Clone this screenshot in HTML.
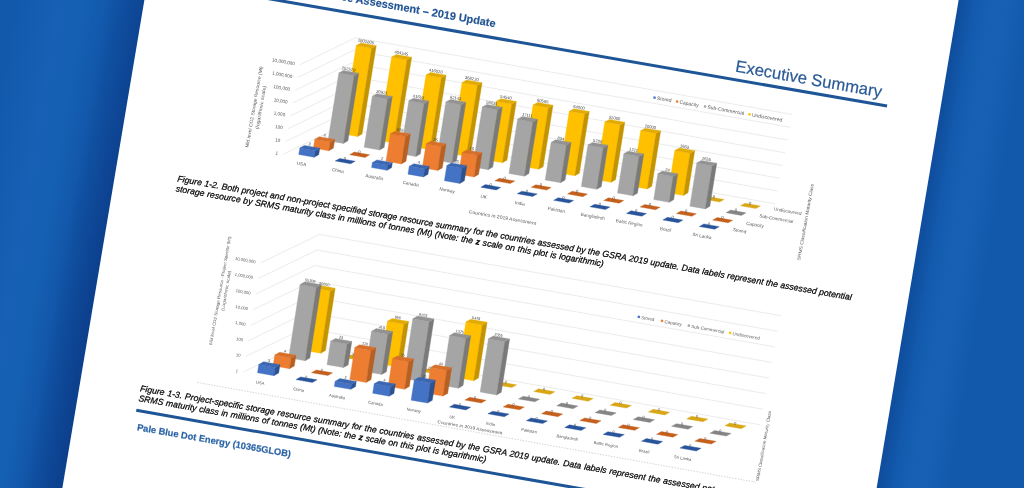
<!DOCTYPE html>
<html><head><meta charset="utf-8"><title>Executive Summary</title>
<style>
html,body{margin:0;padding:0}
body{width:1024px;height:488px;overflow:hidden;position:relative;font-family:"Liberation Sans",sans-serif;
background:#1259ac;}
#wrap{position:absolute;left:0;top:0;width:0;height:0;transform-origin:0 0;transform:matrix(0.98481,0.17365,-0.16574,0.98617,144.40,0.00);}
#bg{position:absolute;left:-400px;top:-300px;width:1800px;height:1100px;background:linear-gradient(90deg,#1259ac 0px,#1259ac 270px,#1760b5 318px,#1660b4 340px,#1259ac 372px,#1259ac 1203px,#1259ac 1216px,#1760b4 1236px,#1760b4 1250px,#1259ac 1275px);}
#shA{position:absolute;left:-38px;top:-300px;width:38px;height:1100px;background:linear-gradient(90deg,rgba(6,30,100,0),rgba(6,30,100,.14) 45%,rgba(6,30,100,.30));}
#shB{position:absolute;left:-58px;top:-300px;width:58px;height:1100px;background:linear-gradient(90deg,rgba(6,30,100,0),rgba(6,30,100,.12) 60%,rgba(6,30,100,.2));-webkit-mask-image:linear-gradient(180deg,rgba(0,0,0,0) 200px,#000 600px);mask-image:linear-gradient(180deg,rgba(0,0,0,0) 200px,#000 600px);}
#shR{position:absolute;left:803px;top:-300px;width:16px;height:1100px;background:linear-gradient(90deg,rgba(6,30,100,.22),rgba(6,30,100,0));}
#paper{position:absolute;left:0;top:-220px;width:803px;height:900px;background:#fff;}
.t{position:absolute;white-space:nowrap;line-height:1}
.hl{position:absolute;background:#1d5596;height:2.8px}
.cap{font-style:italic;font-size:8.72px;color:#000;width:684.5px;text-align:justify;text-align-last:justify;-webkit-text-stroke:.22px #000}
.cap.last{text-align-last:left}
#charts{position:absolute;left:0;top:0;filter:blur(.35px)}
</style></head><body>
<div id="wrap">
 <div id="bg"></div><div id="shA"></div><div id="shB"></div><div id="shR"></div>
 <div id="paper"></div>
 <div class="t" id="title" style="right:-350.3px;top:-43.1px;font-weight:bold;font-size:11px;color:#235593;-webkit-text-stroke:.15px #235593">Global Storage Resource Assessment – 2019 Update</div>
 <div class="hl" style="left:59.8px;top:-26.4px;width:689.6px;transform-origin:100% 50%;transform:rotate(-0.15deg)"></div>
 <div class="t" id="exec" style="right:-742.5px;top:-45px;font-size:16.7px;color:#2a5a96;-webkit-text-stroke:.2px #2a5a96">Executive Summary</div>
 <div class="t cap" id="c1a" style="left:62.3px;top:166.2px">Figure 1-2. Both project and non-project specified storage resource summary for the countries assessed by the GSRA 2019 update. Data labels represent the assessed potential</div>
 <div class="t cap" id="c1b" style="left:62.3px;top:176.25px;width:434.4px">storage resource by SRMS maturity class in millions of tonnes (Mt) (Note: the <b>z</b> scale on this plot is logarithmic)</div>
 <div class="t cap" id="c2a" style="left:60.3px;top:379.05px">Figure 1-3. Project-specific storage resource summary for the countries assessed by the GSRA 2019 update. Data labels represent the assessed potential storage resource by</div>
 <div class="t cap" id="c2b" style="left:60.3px;top:388.5px;width:353px">SRMS maturity class in millions of tonnes (Mt) (Note: the <b>z</b> scale on this plot is logarithmic)</div>
 <div class="hl" style="left:59.8px;top:404.4px;width:700px;height:2.9px"></div>
 <div class="t" id="foot" style="left:63.7px;top:417.8px;font-weight:bold;font-size:9.33px;color:#2b64a6;-webkit-text-stroke:.18px #2b64a6">Pale Blue Dot Energy (10365GLOB)</div>
</div>
<svg id="charts" width="1024" height="488" viewBox="0 0 1024 488" font-family="Liberation Sans, sans-serif">
<line x1="283.20" y1="154.30" x2="338.80" y2="127.35" stroke="#dedede" stroke-width="0.6" />
<line x1="338.80" y1="127.35" x2="775.00" y2="203.75" stroke="#dedede" stroke-width="0.6" />
<line x1="285.60" y1="141.50" x2="341.20" y2="114.55" stroke="#dedede" stroke-width="0.6" />
<line x1="341.20" y1="114.55" x2="777.50" y2="191.00" stroke="#dedede" stroke-width="0.6" />
<line x1="288.00" y1="128.70" x2="343.60" y2="101.75" stroke="#dedede" stroke-width="0.6" />
<line x1="343.60" y1="101.75" x2="780.00" y2="178.25" stroke="#dedede" stroke-width="0.6" />
<line x1="290.40" y1="115.90" x2="346.00" y2="88.95" stroke="#dedede" stroke-width="0.6" />
<line x1="346.00" y1="88.95" x2="782.50" y2="165.50" stroke="#dedede" stroke-width="0.6" />
<line x1="292.80" y1="103.10" x2="348.40" y2="76.15" stroke="#dedede" stroke-width="0.6" />
<line x1="348.40" y1="76.15" x2="785.00" y2="152.75" stroke="#dedede" stroke-width="0.6" />
<line x1="295.20" y1="90.30" x2="350.80" y2="63.35" stroke="#dedede" stroke-width="0.6" />
<line x1="350.80" y1="63.35" x2="787.50" y2="140.00" stroke="#dedede" stroke-width="0.6" />
<line x1="297.60" y1="77.50" x2="353.20" y2="50.55" stroke="#dedede" stroke-width="0.6" />
<line x1="353.20" y1="50.55" x2="790.00" y2="127.25" stroke="#dedede" stroke-width="0.6" />
<line x1="300.00" y1="64.70" x2="355.60" y2="37.75" stroke="#dedede" stroke-width="0.6" />
<line x1="355.60" y1="37.75" x2="792.50" y2="114.50" stroke="#dedede" stroke-width="0.6" />
<text transform="translate(277.70 154.90) rotate(10)" font-size="4.6" text-anchor="end" fill="#595959" >1</text>
<text transform="translate(280.10 142.10) rotate(10)" font-size="4.6" text-anchor="end" fill="#595959" >10</text>
<text transform="translate(282.50 129.30) rotate(10)" font-size="4.6" text-anchor="end" fill="#595959" >100</text>
<text transform="translate(284.90 116.50) rotate(10)" font-size="4.6" text-anchor="end" fill="#595959" >1,000</text>
<text transform="translate(287.30 103.70) rotate(10)" font-size="4.6" text-anchor="end" fill="#595959" >10,000</text>
<text transform="translate(289.70 90.90) rotate(10)" font-size="4.6" text-anchor="end" fill="#595959" >100,000</text>
<text transform="translate(292.10 78.10) rotate(10)" font-size="4.6" text-anchor="end" fill="#595959" >1,000,000</text>
<text transform="translate(294.50 65.30) rotate(10)" font-size="4.6" text-anchor="end" fill="#595959" >10,000,000</text>
<polygon points="342.12,133.80 357.52,136.55 371.65,48.25 356.25,45.50" fill="#FFC000" stroke="#FFC000" stroke-width="0.35" stroke-linejoin="round" />
<polygon points="357.52,136.55 362.12,133.95 376.25,45.65 371.65,48.25" fill="#c49300" stroke="#c49300" stroke-width="0.35" stroke-linejoin="round" />
<polygon points="356.25,45.50 371.65,48.25 376.25,45.65 360.85,42.90" fill="#e3ab00" stroke="#e3ab00" stroke-width="0.35" stroke-linejoin="round" />
<polygon points="378.33,140.34 393.73,143.09 407.06,59.79 391.66,57.04" fill="#FFC000" stroke="#FFC000" stroke-width="0.35" stroke-linejoin="round" />
<polygon points="393.73,143.09 398.33,140.49 411.66,57.19 407.06,59.79" fill="#c49300" stroke="#c49300" stroke-width="0.35" stroke-linejoin="round" />
<polygon points="391.66,57.04 407.06,59.79 411.66,57.19 396.26,54.44" fill="#e3ab00" stroke="#e3ab00" stroke-width="0.35" stroke-linejoin="round" />
<polygon points="414.54,146.89 429.94,149.64 441.44,77.74 426.04,74.99" fill="#FFC000" stroke="#FFC000" stroke-width="0.35" stroke-linejoin="round" />
<polygon points="429.94,149.64 434.54,147.04 446.04,75.14 441.44,77.74" fill="#c49300" stroke="#c49300" stroke-width="0.35" stroke-linejoin="round" />
<polygon points="426.04,74.99 441.44,77.74 446.04,75.14 430.64,72.39" fill="#e3ab00" stroke="#e3ab00" stroke-width="0.35" stroke-linejoin="round" />
<polygon points="450.75,153.44 466.15,156.19 477.49,85.28 462.09,82.53" fill="#FFC000" stroke="#FFC000" stroke-width="0.35" stroke-linejoin="round" />
<polygon points="466.15,156.19 470.75,153.59 482.09,82.69 477.49,85.28" fill="#c49300" stroke="#c49300" stroke-width="0.35" stroke-linejoin="round" />
<polygon points="462.09,82.53 477.49,85.28 482.09,82.69 466.69,79.94" fill="#e3ab00" stroke="#e3ab00" stroke-width="0.35" stroke-linejoin="round" />
<polygon points="486.96,159.98 502.36,162.73 511.75,104.03 496.35,101.28" fill="#FFC000" stroke="#FFC000" stroke-width="0.35" stroke-linejoin="round" />
<polygon points="502.36,162.73 506.96,160.13 516.35,101.43 511.75,104.03" fill="#c49300" stroke="#c49300" stroke-width="0.35" stroke-linejoin="round" />
<polygon points="496.35,101.28 511.75,104.03 516.35,101.43 500.95,98.68" fill="#e3ab00" stroke="#e3ab00" stroke-width="0.35" stroke-linejoin="round" />
<polygon points="523.17,166.52 538.57,169.27 548.41,107.77 533.01,105.02" fill="#FFC000" stroke="#FFC000" stroke-width="0.35" stroke-linejoin="round" />
<polygon points="538.57,169.27 543.17,166.67 553.01,105.17 548.41,107.77" fill="#c49300" stroke="#c49300" stroke-width="0.35" stroke-linejoin="round" />
<polygon points="533.01,105.02 548.41,107.77 553.01,105.17 537.61,102.42" fill="#e3ab00" stroke="#e3ab00" stroke-width="0.35" stroke-linejoin="round" />
<polygon points="559.38,173.07 574.78,175.82 584.67,114.02 569.27,111.27" fill="#FFC000" stroke="#FFC000" stroke-width="0.35" stroke-linejoin="round" />
<polygon points="574.78,175.82 579.38,173.22 589.27,111.42 584.67,114.02" fill="#c49300" stroke="#c49300" stroke-width="0.35" stroke-linejoin="round" />
<polygon points="569.27,111.27 584.67,114.02 589.27,111.42 573.87,108.67" fill="#e3ab00" stroke="#e3ab00" stroke-width="0.35" stroke-linejoin="round" />
<polygon points="595.59,179.62 610.99,182.37 620.21,124.77 604.81,122.02" fill="#FFC000" stroke="#FFC000" stroke-width="0.35" stroke-linejoin="round" />
<polygon points="610.99,182.37 615.59,179.77 624.81,122.17 620.21,124.77" fill="#c49300" stroke="#c49300" stroke-width="0.35" stroke-linejoin="round" />
<polygon points="604.81,122.02 620.21,124.77 624.81,122.17 609.41,119.42" fill="#e3ab00" stroke="#e3ab00" stroke-width="0.35" stroke-linejoin="round" />
<polygon points="631.80,186.16 647.20,188.91 656.06,133.51 640.66,130.76" fill="#FFC000" stroke="#FFC000" stroke-width="0.35" stroke-linejoin="round" />
<polygon points="647.20,188.91 651.80,186.31 660.66,130.91 656.06,133.51" fill="#c49300" stroke="#c49300" stroke-width="0.35" stroke-linejoin="round" />
<polygon points="640.66,130.76 656.06,133.51 660.66,130.91 645.26,128.16" fill="#e3ab00" stroke="#e3ab00" stroke-width="0.35" stroke-linejoin="round" />
<polygon points="668.01,192.70 683.41,195.45 690.16,153.25 674.76,150.50" fill="#FFC000" stroke="#FFC000" stroke-width="0.35" stroke-linejoin="round" />
<polygon points="683.41,195.45 688.01,192.85 694.76,150.66 690.16,153.25" fill="#c49300" stroke="#c49300" stroke-width="0.35" stroke-linejoin="round" />
<polygon points="674.76,150.50 690.16,153.25 694.76,150.66 679.36,147.91" fill="#e3ab00" stroke="#e3ab00" stroke-width="0.35" stroke-linejoin="round" />
<polygon points="704.22,199.25 719.62,202.00 724.22,199.40 708.82,196.65" fill="#d9a616" stroke="#d9a616" stroke-width="0.35" stroke-linejoin="round" />
<polygon points="740.43,205.80 755.83,208.55 760.43,205.95 745.03,203.20" fill="#d9a616" stroke="#d9a616" stroke-width="0.35" stroke-linejoin="round" />
<polygon points="327.97,140.70 343.37,143.45 354.20,75.75 338.80,73.00" fill="#A5A5A5" stroke="#A5A5A5" stroke-width="0.35" stroke-linejoin="round" />
<polygon points="343.37,143.45 347.97,140.85 358.80,73.15 354.20,75.75" fill="#7a7a7a" stroke="#7a7a7a" stroke-width="0.35" stroke-linejoin="round" />
<polygon points="338.80,73.00 354.20,75.75 358.80,73.15 343.40,70.40" fill="#929292" stroke="#929292" stroke-width="0.35" stroke-linejoin="round" />
<polygon points="364.16,147.24 379.56,149.99 387.72,98.99 372.32,96.24" fill="#A5A5A5" stroke="#A5A5A5" stroke-width="0.35" stroke-linejoin="round" />
<polygon points="379.56,149.99 384.16,147.39 392.32,96.39 387.72,98.99" fill="#7a7a7a" stroke="#7a7a7a" stroke-width="0.35" stroke-linejoin="round" />
<polygon points="372.32,96.24 387.72,98.99 392.32,96.39 376.92,93.64" fill="#929292" stroke="#929292" stroke-width="0.35" stroke-linejoin="round" />
<polygon points="400.35,153.79 415.75,156.54 424.23,103.54 408.83,100.79" fill="#A5A5A5" stroke="#A5A5A5" stroke-width="0.35" stroke-linejoin="round" />
<polygon points="415.75,156.54 420.35,153.94 428.83,100.94 424.23,103.54" fill="#7a7a7a" stroke="#7a7a7a" stroke-width="0.35" stroke-linejoin="round" />
<polygon points="408.83,100.79 424.23,103.54 428.83,100.94 413.43,98.19" fill="#929292" stroke="#929292" stroke-width="0.35" stroke-linejoin="round" />
<polygon points="436.54,160.33 451.94,163.08 461.27,104.78 445.87,102.03" fill="#A5A5A5" stroke="#A5A5A5" stroke-width="0.35" stroke-linejoin="round" />
<polygon points="451.94,163.08 456.54,160.48 465.87,102.18 461.27,104.78" fill="#7a7a7a" stroke="#7a7a7a" stroke-width="0.35" stroke-linejoin="round" />
<polygon points="445.87,102.03 461.27,104.78 465.87,102.18 450.47,99.43" fill="#929292" stroke="#929292" stroke-width="0.35" stroke-linejoin="round" />
<polygon points="472.73,166.88 488.13,169.63 497.71,109.73 482.31,106.98" fill="#A5A5A5" stroke="#A5A5A5" stroke-width="0.35" stroke-linejoin="round" />
<polygon points="488.13,169.63 492.73,167.03 502.31,107.13 497.71,109.73" fill="#7a7a7a" stroke="#7a7a7a" stroke-width="0.35" stroke-linejoin="round" />
<polygon points="482.31,106.98 497.71,109.73 502.31,107.13 486.91,104.38" fill="#929292" stroke="#929292" stroke-width="0.35" stroke-linejoin="round" />
<polygon points="508.92,173.42 524.32,176.17 532.99,121.97 517.59,119.22" fill="#A5A5A5" stroke="#A5A5A5" stroke-width="0.35" stroke-linejoin="round" />
<polygon points="524.32,176.17 528.92,173.57 537.59,119.37 532.99,121.97" fill="#7a7a7a" stroke="#7a7a7a" stroke-width="0.35" stroke-linejoin="round" />
<polygon points="517.59,119.22 532.99,121.97 537.59,119.37 522.19,116.62" fill="#929292" stroke="#929292" stroke-width="0.35" stroke-linejoin="round" />
<polygon points="545.11,179.97 560.51,182.72 566.51,145.22 551.11,142.47" fill="#A5A5A5" stroke="#A5A5A5" stroke-width="0.35" stroke-linejoin="round" />
<polygon points="560.51,182.72 565.11,180.12 571.11,142.62 566.51,145.22" fill="#7a7a7a" stroke="#7a7a7a" stroke-width="0.35" stroke-linejoin="round" />
<polygon points="551.11,142.47 566.51,145.22 571.11,142.62 555.71,139.87" fill="#929292" stroke="#929292" stroke-width="0.35" stroke-linejoin="round" />
<polygon points="581.30,186.51 596.70,189.26 603.34,147.76 587.94,145.01" fill="#A5A5A5" stroke="#A5A5A5" stroke-width="0.35" stroke-linejoin="round" />
<polygon points="596.70,189.26 601.30,186.66 607.94,145.16 603.34,147.76" fill="#7a7a7a" stroke="#7a7a7a" stroke-width="0.35" stroke-linejoin="round" />
<polygon points="587.94,145.01 603.34,147.76 607.94,145.16 592.54,142.41" fill="#929292" stroke="#929292" stroke-width="0.35" stroke-linejoin="round" />
<polygon points="617.49,193.06 632.89,195.81 639.18,156.51 623.78,153.76" fill="#A5A5A5" stroke="#A5A5A5" stroke-width="0.35" stroke-linejoin="round" />
<polygon points="632.89,195.81 637.49,193.21 643.78,153.91 639.18,156.51" fill="#7a7a7a" stroke="#7a7a7a" stroke-width="0.35" stroke-linejoin="round" />
<polygon points="623.78,153.76 639.18,156.51 643.78,153.91 628.38,151.16" fill="#929292" stroke="#929292" stroke-width="0.35" stroke-linejoin="round" />
<polygon points="653.68,199.60 669.08,202.35 673.22,176.45 657.82,173.70" fill="#A5A5A5" stroke="#A5A5A5" stroke-width="0.35" stroke-linejoin="round" />
<polygon points="669.08,202.35 673.68,199.75 677.82,173.85 673.22,176.45" fill="#7a7a7a" stroke="#7a7a7a" stroke-width="0.35" stroke-linejoin="round" />
<polygon points="657.82,173.70 673.22,176.45 677.82,173.85 662.42,171.10" fill="#929292" stroke="#929292" stroke-width="0.35" stroke-linejoin="round" />
<polygon points="689.87,206.15 705.27,208.90 712.17,165.75 696.77,163.00" fill="#A5A5A5" stroke="#A5A5A5" stroke-width="0.35" stroke-linejoin="round" />
<polygon points="705.27,208.90 709.87,206.30 716.77,163.15 712.17,165.75" fill="#7a7a7a" stroke="#7a7a7a" stroke-width="0.35" stroke-linejoin="round" />
<polygon points="696.77,163.00 712.17,165.75 716.77,163.15 701.37,160.40" fill="#929292" stroke="#929292" stroke-width="0.35" stroke-linejoin="round" />
<polygon points="726.06,212.69 741.46,215.44 746.06,212.84 730.66,210.09" fill="#858585" stroke="#858585" stroke-width="0.35" stroke-linejoin="round" />
<polygon points="313.38,148.10 328.78,150.85 330.20,142.00 314.80,139.25" fill="#ED7D31" stroke="#ED7D31" stroke-width="0.35" stroke-linejoin="round" />
<polygon points="328.78,150.85 333.38,148.25 334.80,139.40 330.20,142.00" fill="#b85f22" stroke="#b85f22" stroke-width="0.35" stroke-linejoin="round" />
<polygon points="314.80,139.25 330.20,142.00 334.80,139.40 319.40,136.65" fill="#d66f2a" stroke="#d66f2a" stroke-width="0.35" stroke-linejoin="round" />
<polygon points="349.68,154.64 365.08,157.39 369.68,154.79 354.28,152.04" fill="#c4601c" stroke="#c4601c" stroke-width="0.35" stroke-linejoin="round" />
<polygon points="385.98,161.19 401.38,163.94 405.76,136.54 390.36,133.79" fill="#ED7D31" stroke="#ED7D31" stroke-width="0.35" stroke-linejoin="round" />
<polygon points="401.38,163.94 405.98,161.34 410.36,133.94 405.76,136.54" fill="#b85f22" stroke="#b85f22" stroke-width="0.35" stroke-linejoin="round" />
<polygon points="390.36,133.79 405.76,136.54 410.36,133.94 394.96,131.19" fill="#d66f2a" stroke="#d66f2a" stroke-width="0.35" stroke-linejoin="round" />
<polygon points="422.28,167.73 437.68,170.48 441.52,146.48 426.12,143.73" fill="#ED7D31" stroke="#ED7D31" stroke-width="0.35" stroke-linejoin="round" />
<polygon points="437.68,170.48 442.28,167.88 446.12,143.88 441.52,146.48" fill="#b85f22" stroke="#b85f22" stroke-width="0.35" stroke-linejoin="round" />
<polygon points="426.12,143.73 441.52,146.48 446.12,143.88 430.72,141.13" fill="#d66f2a" stroke="#d66f2a" stroke-width="0.35" stroke-linejoin="round" />
<polygon points="458.58,174.28 473.98,177.03 477.47,155.23 462.07,152.48" fill="#ED7D31" stroke="#ED7D31" stroke-width="0.35" stroke-linejoin="round" />
<polygon points="473.98,177.03 478.58,174.43 482.07,152.63 477.47,155.23" fill="#b85f22" stroke="#b85f22" stroke-width="0.35" stroke-linejoin="round" />
<polygon points="462.07,152.48 477.47,155.23 482.07,152.63 466.67,149.88" fill="#d66f2a" stroke="#d66f2a" stroke-width="0.35" stroke-linejoin="round" />
<polygon points="494.88,180.82 510.28,183.57 514.88,180.97 499.48,178.22" fill="#c4601c" stroke="#c4601c" stroke-width="0.35" stroke-linejoin="round" />
<polygon points="531.18,187.37 546.58,190.12 551.18,187.52 535.78,184.77" fill="#c4601c" stroke="#c4601c" stroke-width="0.35" stroke-linejoin="round" />
<polygon points="567.48,193.91 582.88,196.66 587.48,194.06 572.08,191.31" fill="#c4601c" stroke="#c4601c" stroke-width="0.35" stroke-linejoin="round" />
<polygon points="603.78,200.46 619.18,203.21 623.78,200.61 608.38,197.86" fill="#c4601c" stroke="#c4601c" stroke-width="0.35" stroke-linejoin="round" />
<polygon points="640.08,207.00 655.48,209.75 660.08,207.16 644.68,204.41" fill="#c4601c" stroke="#c4601c" stroke-width="0.35" stroke-linejoin="round" />
<polygon points="676.38,213.55 691.78,216.30 696.38,213.70 680.98,210.95" fill="#c4601c" stroke="#c4601c" stroke-width="0.35" stroke-linejoin="round" />
<polygon points="712.68,220.09 728.08,222.84 732.68,220.25 717.28,217.50" fill="#c4601c" stroke="#c4601c" stroke-width="0.35" stroke-linejoin="round" />
<polygon points="298.75,154.50 314.15,157.25 315.19,150.75 299.79,148.00" fill="#4472C4" stroke="#4472C4" stroke-width="0.35" stroke-linejoin="round" />
<polygon points="314.15,157.25 318.75,154.65 319.79,148.15 315.19,150.75" fill="#2c5292" stroke="#2c5292" stroke-width="0.35" stroke-linejoin="round" />
<polygon points="299.79,148.00 315.19,150.75 319.79,148.15 304.39,145.40" fill="#3a66b2" stroke="#3a66b2" stroke-width="0.35" stroke-linejoin="round" />
<polygon points="335.16,161.04 350.56,163.79 355.16,161.19 339.76,158.44" fill="#28549c" stroke="#28549c" stroke-width="0.35" stroke-linejoin="round" />
<polygon points="371.57,167.59 386.97,170.34 387.79,165.24 372.39,162.49" fill="#4472C4" stroke="#4472C4" stroke-width="0.35" stroke-linejoin="round" />
<polygon points="386.97,170.34 391.57,167.74 392.39,162.64 387.79,165.24" fill="#2c5292" stroke="#2c5292" stroke-width="0.35" stroke-linejoin="round" />
<polygon points="372.39,162.49 387.79,165.24 392.39,162.64 376.99,159.89" fill="#3a66b2" stroke="#3a66b2" stroke-width="0.35" stroke-linejoin="round" />
<polygon points="407.98,174.13 423.38,176.88 424.64,168.98 409.24,166.23" fill="#4472C4" stroke="#4472C4" stroke-width="0.35" stroke-linejoin="round" />
<polygon points="423.38,176.88 427.98,174.28 429.24,166.38 424.64,168.98" fill="#2c5292" stroke="#2c5292" stroke-width="0.35" stroke-linejoin="round" />
<polygon points="409.24,166.23 424.64,168.98 429.24,166.38 413.84,163.63" fill="#3a66b2" stroke="#3a66b2" stroke-width="0.35" stroke-linejoin="round" />
<polygon points="444.39,180.68 459.79,183.43 462.22,168.23 446.82,165.48" fill="#4472C4" stroke="#4472C4" stroke-width="0.35" stroke-linejoin="round" />
<polygon points="459.79,183.43 464.39,180.83 466.82,165.63 462.22,168.23" fill="#2c5292" stroke="#2c5292" stroke-width="0.35" stroke-linejoin="round" />
<polygon points="446.82,165.48 462.22,168.23 466.82,165.63 451.42,162.88" fill="#3a66b2" stroke="#3a66b2" stroke-width="0.35" stroke-linejoin="round" />
<polygon points="480.80,187.22 496.20,189.97 500.80,187.38 485.40,184.62" fill="#28549c" stroke="#28549c" stroke-width="0.35" stroke-linejoin="round" />
<polygon points="517.21,193.77 532.61,196.52 537.21,193.92 521.81,191.17" fill="#28549c" stroke="#28549c" stroke-width="0.35" stroke-linejoin="round" />
<polygon points="553.62,200.31 569.02,203.06 573.62,200.47 558.22,197.72" fill="#28549c" stroke="#28549c" stroke-width="0.35" stroke-linejoin="round" />
<polygon points="590.03,206.86 605.43,209.61 610.03,207.01 594.63,204.26" fill="#28549c" stroke="#28549c" stroke-width="0.35" stroke-linejoin="round" />
<polygon points="626.44,213.41 641.84,216.16 646.44,213.56 631.04,210.81" fill="#28549c" stroke="#28549c" stroke-width="0.35" stroke-linejoin="round" />
<polygon points="662.85,219.95 678.25,222.70 682.85,220.10 667.45,217.35" fill="#28549c" stroke="#28549c" stroke-width="0.35" stroke-linejoin="round" />
<polygon points="699.26,226.50 714.66,229.25 719.26,226.65 703.86,223.90" fill="#28549c" stroke="#28549c" stroke-width="0.35" stroke-linejoin="round" />
<text transform="translate(365.75 42.98) rotate(10)" font-size="4.199999999999999" text-anchor="middle" fill="#404040" >2802805</text>
<text transform="translate(401.16 54.52) rotate(10)" font-size="4.199999999999999" text-anchor="middle" fill="#404040" >404545</text>
<text transform="translate(435.54 72.46) rotate(10)" font-size="4.199999999999999" text-anchor="middle" fill="#404040" >416020</text>
<text transform="translate(471.59 80.01) rotate(10)" font-size="4.199999999999999" text-anchor="middle" fill="#404040" >368220</text>
<text transform="translate(505.85 98.76) rotate(10)" font-size="4.199999999999999" text-anchor="middle" fill="#404040" >54540</text>
<text transform="translate(542.51 102.50) rotate(10)" font-size="4.199999999999999" text-anchor="middle" fill="#404040" >60565</text>
<text transform="translate(578.77 108.75) rotate(10)" font-size="4.199999999999999" text-anchor="middle" fill="#404040" >64000</text>
<text transform="translate(614.31 119.49) rotate(10)" font-size="4.199999999999999" text-anchor="middle" fill="#404040" >32000</text>
<text transform="translate(650.16 128.24) rotate(10)" font-size="4.199999999999999" text-anchor="middle" fill="#404040" >20000</text>
<text transform="translate(684.26 147.98) rotate(10)" font-size="4.199999999999999" text-anchor="middle" fill="#404040" >1663</text>
<text transform="translate(713.72 198.12) rotate(10)" font-size="4.199999999999999" text-anchor="middle" fill="#404040" >0</text>
<text transform="translate(749.93 204.67) rotate(10)" font-size="4.199999999999999" text-anchor="middle" fill="#404040" >0</text>
<text transform="translate(348.30 70.47) rotate(10)" font-size="4.199999999999999" text-anchor="middle" fill="#404040" >252578</text>
<text transform="translate(381.82 93.72) rotate(10)" font-size="4.199999999999999" text-anchor="middle" fill="#404040" >30621</text>
<text transform="translate(418.33 98.27) rotate(10)" font-size="4.199999999999999" text-anchor="middle" fill="#404040" >41653</text>
<text transform="translate(455.37 99.51) rotate(10)" font-size="4.199999999999999" text-anchor="middle" fill="#404040" >62143</text>
<text transform="translate(491.81 104.45) rotate(10)" font-size="4.199999999999999" text-anchor="middle" fill="#404040" >56031</text>
<text transform="translate(527.09 116.70) rotate(10)" font-size="4.199999999999999" text-anchor="middle" fill="#404040" >17111</text>
<text transform="translate(560.61 139.94) rotate(10)" font-size="4.199999999999999" text-anchor="middle" fill="#404040" >834</text>
<text transform="translate(597.44 142.49) rotate(10)" font-size="4.199999999999999" text-anchor="middle" fill="#404040" >5200</text>
<text transform="translate(633.28 151.23) rotate(10)" font-size="4.199999999999999" text-anchor="middle" fill="#404040" >1211</text>
<text transform="translate(667.32 171.18) rotate(10)" font-size="4.199999999999999" text-anchor="middle" fill="#404040" >24</text>
<text transform="translate(706.27 160.47) rotate(10)" font-size="4.199999999999999" text-anchor="middle" fill="#404040" >2655</text>
<text transform="translate(735.56 211.57) rotate(10)" font-size="4.199999999999999" text-anchor="middle" fill="#404040" >0</text>
<text transform="translate(324.30 136.72) rotate(10)" font-size="4.199999999999999" text-anchor="middle" fill="#404040" >4</text>
<text transform="translate(359.18 153.52) rotate(10)" font-size="4.199999999999999" text-anchor="middle" fill="#404040" >0</text>
<text transform="translate(399.86 131.27) rotate(10)" font-size="4.199999999999999" text-anchor="middle" fill="#404040" >316</text>
<text transform="translate(435.62 141.21) rotate(10)" font-size="4.199999999999999" text-anchor="middle" fill="#404040" >35</text>
<text transform="translate(471.57 149.96) rotate(10)" font-size="4.199999999999999" text-anchor="middle" fill="#404040" >16</text>
<text transform="translate(504.38 179.70) rotate(10)" font-size="4.199999999999999" text-anchor="middle" fill="#404040" >0</text>
<text transform="translate(540.68 186.25) rotate(10)" font-size="4.199999999999999" text-anchor="middle" fill="#404040" >0</text>
<text transform="translate(576.98 192.79) rotate(10)" font-size="4.199999999999999" text-anchor="middle" fill="#404040" >0</text>
<text transform="translate(613.28 199.34) rotate(10)" font-size="4.199999999999999" text-anchor="middle" fill="#404040" >0</text>
<text transform="translate(649.58 205.88) rotate(10)" font-size="4.199999999999999" text-anchor="middle" fill="#404040" >0</text>
<text transform="translate(685.88 212.43) rotate(10)" font-size="4.199999999999999" text-anchor="middle" fill="#404040" >0</text>
<text transform="translate(722.18 218.97) rotate(10)" font-size="4.199999999999999" text-anchor="middle" fill="#404040" >0</text>
<text transform="translate(309.29 145.47) rotate(10)" font-size="4.199999999999999" text-anchor="middle" fill="#404040" >3</text>
<text transform="translate(344.66 159.92) rotate(10)" font-size="4.199999999999999" text-anchor="middle" fill="#404040" >0</text>
<text transform="translate(381.89 159.97) rotate(10)" font-size="4.199999999999999" text-anchor="middle" fill="#404040" >2</text>
<text transform="translate(418.74 163.71) rotate(10)" font-size="4.199999999999999" text-anchor="middle" fill="#404040" >4</text>
<text transform="translate(456.32 162.96) rotate(10)" font-size="4.199999999999999" text-anchor="middle" fill="#404040" >26</text>
<text transform="translate(490.30 186.10) rotate(10)" font-size="4.199999999999999" text-anchor="middle" fill="#404040" >0</text>
<text transform="translate(526.71 192.64) rotate(10)" font-size="4.199999999999999" text-anchor="middle" fill="#404040" >0</text>
<text transform="translate(563.12 199.19) rotate(10)" font-size="4.199999999999999" text-anchor="middle" fill="#404040" >0</text>
<text transform="translate(599.53 205.74) rotate(10)" font-size="4.199999999999999" text-anchor="middle" fill="#404040" >0</text>
<text transform="translate(635.94 212.28) rotate(10)" font-size="4.199999999999999" text-anchor="middle" fill="#404040" >0</text>
<text transform="translate(672.35 218.82) rotate(10)" font-size="4.199999999999999" text-anchor="middle" fill="#404040" >0</text>
<text transform="translate(708.76 225.37) rotate(10)" font-size="4.199999999999999" text-anchor="middle" fill="#404040" >0</text>
<text transform="translate(301.25 165.50) rotate(10)" font-size="4.6" text-anchor="middle" fill="#595959" >USA</text>
<text transform="translate(337.66 172.04) rotate(10)" font-size="4.6" text-anchor="middle" fill="#595959" >China</text>
<text transform="translate(374.07 178.59) rotate(10)" font-size="4.6" text-anchor="middle" fill="#595959" >Australia</text>
<text transform="translate(410.48 185.13) rotate(10)" font-size="4.6" text-anchor="middle" fill="#595959" >Canada</text>
<text transform="translate(446.89 191.68) rotate(10)" font-size="4.6" text-anchor="middle" fill="#595959" >Norway</text>
<text transform="translate(483.30 198.22) rotate(10)" font-size="4.6" text-anchor="middle" fill="#595959" >UK</text>
<text transform="translate(519.71 204.77) rotate(10)" font-size="4.6" text-anchor="middle" fill="#595959" >India</text>
<text transform="translate(556.12 211.31) rotate(10)" font-size="4.6" text-anchor="middle" fill="#595959" >Pakistan</text>
<text transform="translate(592.53 217.86) rotate(10)" font-size="4.6" text-anchor="middle" fill="#595959" >Bangladesh</text>
<text transform="translate(628.94 224.41) rotate(10)" font-size="4.6" text-anchor="middle" fill="#595959" >Baltic Region</text>
<text transform="translate(665.35 230.95) rotate(10)" font-size="4.6" text-anchor="middle" fill="#595959" >Brazil</text>
<text transform="translate(701.76 237.50) rotate(10)" font-size="4.6" text-anchor="middle" fill="#595959" >Sri Lanka</text>
<text transform="translate(732.67 231.04) rotate(10)" font-size="4.6" text-anchor="start" fill="#595959" >Stored</text>
<text transform="translate(745.98 224.64) rotate(10)" font-size="4.6" text-anchor="start" fill="#595959" >Capacity</text>
<text transform="translate(759.25 217.24) rotate(10)" font-size="4.6" text-anchor="start" fill="#595959" >Sub-Commercial</text>
<text transform="translate(773.64 210.34) rotate(10)" font-size="4.6" text-anchor="start" fill="#595959" >Undiscovered</text>
<rect transform="translate(654.50 97.50) rotate(10)" x="-1.1" y="-1.1" width="2.3" height="2.3" fill="#4472C4"/>
<text transform="translate(656.77 99.63) rotate(10)" font-size="5.0" text-anchor="start" fill="#595959" >Stored</text>
<rect transform="translate(677.00 101.47) rotate(10)" x="-1.1" y="-1.1" width="2.3" height="2.3" fill="#ED7D31"/>
<text transform="translate(679.27 103.59) rotate(10)" font-size="5.0" text-anchor="start" fill="#595959" >Capacity</text>
<rect transform="translate(705.02 106.41) rotate(10)" x="-1.1" y="-1.1" width="2.3" height="2.3" fill="#A5A5A5"/>
<text transform="translate(707.29 108.53) rotate(10)" font-size="5.0" text-anchor="start" fill="#595959" >Sub-Commercial</text>
<rect transform="translate(749.53 114.26) rotate(10)" x="-1.1" y="-1.1" width="2.3" height="2.3" fill="#FFC000"/>
<text transform="translate(751.80 116.38) rotate(10)" font-size="5.0" text-anchor="start" fill="#595959" >Undiscovered</text>
<text transform="translate(255.50 107.20) rotate(-80)" font-size="4.6" text-anchor="middle" fill="#595959" textLength="82.5" lengthAdjust="spacingAndGlyphs">Mid level CO2 Storage Resource (Mt)</text>
<text transform="translate(262.30 107.80) rotate(-80)" font-size="4.6" text-anchor="middle" fill="#595959" textLength="44.3" lengthAdjust="spacingAndGlyphs">(logarithmic scale)</text>
<text transform="translate(502.30 219.00) rotate(10)" font-size="4.6" text-anchor="middle" fill="#595959" textLength="68.5" lengthAdjust="spacingAndGlyphs">Countries in 2019 Assessment</text>
<text transform="translate(807.00 222.30) rotate(-80)" font-size="4.6" text-anchor="middle" fill="#595959" textLength="77.6" lengthAdjust="spacingAndGlyphs">SRMS Classification Maturity Class</text>
<line x1="243.40" y1="372.00" x2="302.00" y2="343.60" stroke="#dedede" stroke-width="0.6" />
<line x1="302.00" y1="343.60" x2="760.40" y2="424.90" stroke="#dedede" stroke-width="0.6" />
<line x1="245.90" y1="356.40" x2="304.50" y2="328.00" stroke="#dedede" stroke-width="0.6" />
<line x1="304.50" y1="328.00" x2="763.30" y2="409.30" stroke="#dedede" stroke-width="0.6" />
<line x1="248.40" y1="340.80" x2="307.00" y2="312.40" stroke="#dedede" stroke-width="0.6" />
<line x1="307.00" y1="312.40" x2="766.20" y2="393.70" stroke="#dedede" stroke-width="0.6" />
<line x1="250.90" y1="325.20" x2="309.50" y2="296.80" stroke="#dedede" stroke-width="0.6" />
<line x1="309.50" y1="296.80" x2="769.10" y2="378.10" stroke="#dedede" stroke-width="0.6" />
<line x1="253.40" y1="309.60" x2="312.00" y2="281.20" stroke="#dedede" stroke-width="0.6" />
<line x1="312.00" y1="281.20" x2="772.00" y2="362.50" stroke="#dedede" stroke-width="0.6" />
<line x1="255.90" y1="294.00" x2="314.50" y2="265.60" stroke="#dedede" stroke-width="0.6" />
<line x1="314.50" y1="265.60" x2="774.90" y2="346.90" stroke="#dedede" stroke-width="0.6" />
<line x1="258.40" y1="278.40" x2="317.00" y2="250.00" stroke="#dedede" stroke-width="0.6" />
<line x1="317.00" y1="250.00" x2="777.80" y2="331.30" stroke="#dedede" stroke-width="0.6" />
<line x1="260.90" y1="262.80" x2="319.50" y2="234.40" stroke="#dedede" stroke-width="0.6" />
<line x1="319.50" y1="234.40" x2="780.70" y2="315.70" stroke="#dedede" stroke-width="0.6" />
<text transform="translate(237.90 372.60) rotate(10)" font-size="4.2" text-anchor="end" fill="#595959" >1</text>
<text transform="translate(240.40 357.00) rotate(10)" font-size="4.2" text-anchor="end" fill="#595959" >10</text>
<text transform="translate(242.90 341.40) rotate(10)" font-size="4.2" text-anchor="end" fill="#595959" >100</text>
<text transform="translate(245.40 325.80) rotate(10)" font-size="4.2" text-anchor="end" fill="#595959" >1,000</text>
<text transform="translate(247.90 310.20) rotate(10)" font-size="4.2" text-anchor="end" fill="#595959" >10,000</text>
<text transform="translate(250.40 294.60) rotate(10)" font-size="4.2" text-anchor="end" fill="#595959" >100,000</text>
<text transform="translate(252.90 279.00) rotate(10)" font-size="4.2" text-anchor="end" fill="#595959" >1,000,000</text>
<text transform="translate(255.40 263.40) rotate(10)" font-size="4.2" text-anchor="end" fill="#595959" >10,000,000</text>
<polygon points="304.30,350.40 320.70,353.30 330.37,290.90 313.97,288.00" fill="#FFC000" stroke="#FFC000" stroke-width="0.35" stroke-linejoin="round" />
<polygon points="320.70,353.30 325.50,350.60 335.17,288.20 330.37,290.90" fill="#c49300" stroke="#c49300" stroke-width="0.35" stroke-linejoin="round" />
<polygon points="313.97,288.00 330.37,290.90 335.17,288.20 318.77,285.30" fill="#e3ab00" stroke="#e3ab00" stroke-width="0.35" stroke-linejoin="round" />
<polygon points="342.53,357.25 358.93,360.15 363.73,357.45 347.33,354.55" fill="#d9a616" stroke="#d9a616" stroke-width="0.35" stroke-linejoin="round" />
<polygon points="380.77,364.10 397.17,367.00 403.81,324.15 387.41,321.25" fill="#FFC000" stroke="#FFC000" stroke-width="0.35" stroke-linejoin="round" />
<polygon points="397.17,367.00 401.97,364.30 408.61,321.45 403.81,324.15" fill="#c49300" stroke="#c49300" stroke-width="0.35" stroke-linejoin="round" />
<polygon points="387.41,321.25 403.81,324.15 408.61,321.45 392.21,318.55" fill="#e3ab00" stroke="#e3ab00" stroke-width="0.35" stroke-linejoin="round" />
<polygon points="419.00,370.95 435.40,373.85 440.20,371.15 423.81,368.25" fill="#d9a616" stroke="#d9a616" stroke-width="0.35" stroke-linejoin="round" />
<polygon points="457.24,377.80 473.64,380.70 482.29,324.90 465.89,322.00" fill="#FFC000" stroke="#FFC000" stroke-width="0.35" stroke-linejoin="round" />
<polygon points="473.64,380.70 478.44,378.00 487.09,322.20 482.29,324.90" fill="#c49300" stroke="#c49300" stroke-width="0.35" stroke-linejoin="round" />
<polygon points="465.89,322.00 482.29,324.90 487.09,322.20 470.69,319.30" fill="#e3ab00" stroke="#e3ab00" stroke-width="0.35" stroke-linejoin="round" />
<polygon points="495.48,384.65 511.88,387.55 516.67,384.85 500.28,381.95" fill="#d9a616" stroke="#d9a616" stroke-width="0.35" stroke-linejoin="round" />
<polygon points="533.71,391.50 550.11,394.40 554.91,391.70 538.51,388.80" fill="#d9a616" stroke="#d9a616" stroke-width="0.35" stroke-linejoin="round" />
<polygon points="571.94,398.35 588.34,401.25 593.14,398.55 576.74,395.65" fill="#d9a616" stroke="#d9a616" stroke-width="0.35" stroke-linejoin="round" />
<polygon points="610.18,405.20 626.58,408.10 631.38,405.40 614.98,402.50" fill="#d9a616" stroke="#d9a616" stroke-width="0.35" stroke-linejoin="round" />
<polygon points="648.41,412.05 664.81,414.95 669.61,412.25 653.21,409.35" fill="#d9a616" stroke="#d9a616" stroke-width="0.35" stroke-linejoin="round" />
<polygon points="686.65,418.90 703.05,421.80 707.85,419.10 691.45,416.20" fill="#d9a616" stroke="#d9a616" stroke-width="0.35" stroke-linejoin="round" />
<polygon points="724.88,425.75 741.28,428.65 746.08,425.95 729.68,423.05" fill="#d9a616" stroke="#d9a616" stroke-width="0.35" stroke-linejoin="round" />
<polygon points="288.70,357.85 305.10,360.75 316.47,287.40 300.07,284.50" fill="#A5A5A5" stroke="#A5A5A5" stroke-width="0.35" stroke-linejoin="round" />
<polygon points="305.10,360.75 309.90,358.05 321.27,284.70 316.47,287.40" fill="#7a7a7a" stroke="#7a7a7a" stroke-width="0.35" stroke-linejoin="round" />
<polygon points="300.07,284.50 316.47,287.40 321.27,284.70 304.87,281.80" fill="#929292" stroke="#929292" stroke-width="0.35" stroke-linejoin="round" />
<polygon points="326.99,364.70 343.39,367.60 347.03,344.10 330.63,341.20" fill="#A5A5A5" stroke="#A5A5A5" stroke-width="0.35" stroke-linejoin="round" />
<polygon points="343.39,367.60 348.19,364.90 351.83,341.40 347.03,344.10" fill="#7a7a7a" stroke="#7a7a7a" stroke-width="0.35" stroke-linejoin="round" />
<polygon points="330.63,341.20 347.03,344.10 351.83,341.40 335.43,338.50" fill="#929292" stroke="#929292" stroke-width="0.35" stroke-linejoin="round" />
<polygon points="365.28,371.55 381.68,374.45 387.93,334.15 371.53,331.25" fill="#A5A5A5" stroke="#A5A5A5" stroke-width="0.35" stroke-linejoin="round" />
<polygon points="381.68,374.45 386.48,371.75 392.73,331.45 387.93,334.15" fill="#7a7a7a" stroke="#7a7a7a" stroke-width="0.35" stroke-linejoin="round" />
<polygon points="371.53,331.25 387.93,334.15 392.73,331.45 376.33,328.55" fill="#929292" stroke="#929292" stroke-width="0.35" stroke-linejoin="round" />
<polygon points="403.57,378.40 419.97,381.30 429.22,321.65 412.82,318.75" fill="#A5A5A5" stroke="#A5A5A5" stroke-width="0.35" stroke-linejoin="round" />
<polygon points="419.97,381.30 424.77,378.60 434.02,318.95 429.22,321.65" fill="#7a7a7a" stroke="#7a7a7a" stroke-width="0.35" stroke-linejoin="round" />
<polygon points="412.82,318.75 429.22,321.65 434.02,318.95 417.62,316.05" fill="#929292" stroke="#929292" stroke-width="0.35" stroke-linejoin="round" />
<polygon points="441.86,385.25 458.26,388.15 465.97,338.40 449.57,335.50" fill="#A5A5A5" stroke="#A5A5A5" stroke-width="0.35" stroke-linejoin="round" />
<polygon points="458.26,388.15 463.06,385.45 470.77,335.70 465.97,338.40" fill="#7a7a7a" stroke="#7a7a7a" stroke-width="0.35" stroke-linejoin="round" />
<polygon points="449.57,335.50 465.97,338.40 470.77,335.70 454.37,332.80" fill="#929292" stroke="#929292" stroke-width="0.35" stroke-linejoin="round" />
<polygon points="480.15,392.10 496.55,395.00 504.82,341.65 488.42,338.75" fill="#A5A5A5" stroke="#A5A5A5" stroke-width="0.35" stroke-linejoin="round" />
<polygon points="496.55,395.00 501.35,392.30 509.62,338.95 504.82,341.65" fill="#7a7a7a" stroke="#7a7a7a" stroke-width="0.35" stroke-linejoin="round" />
<polygon points="488.42,338.75 504.82,341.65 509.62,338.95 493.22,336.05" fill="#929292" stroke="#929292" stroke-width="0.35" stroke-linejoin="round" />
<polygon points="518.44,398.95 534.84,401.85 539.64,399.15 523.24,396.25" fill="#858585" stroke="#858585" stroke-width="0.35" stroke-linejoin="round" />
<polygon points="556.73,405.80 573.13,408.70 577.93,406.00 561.53,403.10" fill="#858585" stroke="#858585" stroke-width="0.35" stroke-linejoin="round" />
<polygon points="595.02,412.65 611.42,415.55 616.22,412.85 599.82,409.95" fill="#858585" stroke="#858585" stroke-width="0.35" stroke-linejoin="round" />
<polygon points="633.31,419.50 649.71,422.40 654.51,419.70 638.11,416.80" fill="#858585" stroke="#858585" stroke-width="0.35" stroke-linejoin="round" />
<polygon points="671.60,426.35 688.00,429.25 692.80,426.55 676.40,423.65" fill="#858585" stroke="#858585" stroke-width="0.35" stroke-linejoin="round" />
<polygon points="709.89,433.20 726.29,436.10 731.09,433.40 714.69,430.50" fill="#858585" stroke="#858585" stroke-width="0.35" stroke-linejoin="round" />
<polygon points="273.10,365.80 289.50,368.70 291.17,357.90 274.77,355.00" fill="#ED7D31" stroke="#ED7D31" stroke-width="0.35" stroke-linejoin="round" />
<polygon points="289.50,368.70 294.30,366.00 295.97,355.20 291.17,357.90" fill="#b85f22" stroke="#b85f22" stroke-width="0.35" stroke-linejoin="round" />
<polygon points="274.77,355.00 291.17,357.90 295.97,355.20 279.57,352.30" fill="#d66f2a" stroke="#d66f2a" stroke-width="0.35" stroke-linejoin="round" />
<polygon points="311.44,372.65 327.84,375.55 332.64,372.85 316.25,369.95" fill="#c4601c" stroke="#c4601c" stroke-width="0.35" stroke-linejoin="round" />
<polygon points="349.79,379.50 366.19,382.40 371.15,350.40 354.75,347.50" fill="#ED7D31" stroke="#ED7D31" stroke-width="0.35" stroke-linejoin="round" />
<polygon points="366.19,382.40 370.99,379.70 375.95,347.70 371.15,350.40" fill="#b85f22" stroke="#b85f22" stroke-width="0.35" stroke-linejoin="round" />
<polygon points="354.75,347.50 371.15,350.40 375.95,347.70 359.55,344.80" fill="#d66f2a" stroke="#d66f2a" stroke-width="0.35" stroke-linejoin="round" />
<polygon points="388.13,386.35 404.53,389.25 408.81,361.65 392.41,358.75" fill="#ED7D31" stroke="#ED7D31" stroke-width="0.35" stroke-linejoin="round" />
<polygon points="404.53,389.25 409.33,386.55 413.61,358.95 408.81,361.65" fill="#b85f22" stroke="#b85f22" stroke-width="0.35" stroke-linejoin="round" />
<polygon points="392.41,358.75 408.81,361.65 413.61,358.95 397.21,356.05" fill="#d66f2a" stroke="#d66f2a" stroke-width="0.35" stroke-linejoin="round" />
<polygon points="426.48,393.20 442.88,396.10 446.86,370.40 430.46,367.50" fill="#ED7D31" stroke="#ED7D31" stroke-width="0.35" stroke-linejoin="round" />
<polygon points="442.88,396.10 447.68,393.40 451.66,367.70 446.86,370.40" fill="#b85f22" stroke="#b85f22" stroke-width="0.35" stroke-linejoin="round" />
<polygon points="430.46,367.50 446.86,370.40 451.66,367.70 435.26,364.80" fill="#d66f2a" stroke="#d66f2a" stroke-width="0.35" stroke-linejoin="round" />
<polygon points="464.82,400.05 481.22,402.95 486.02,400.25 469.62,397.35" fill="#c4601c" stroke="#c4601c" stroke-width="0.35" stroke-linejoin="round" />
<polygon points="503.17,406.90 519.57,409.80 524.37,407.10 507.97,404.20" fill="#c4601c" stroke="#c4601c" stroke-width="0.35" stroke-linejoin="round" />
<polygon points="541.51,413.75 557.91,416.65 562.71,413.95 546.31,411.05" fill="#c4601c" stroke="#c4601c" stroke-width="0.35" stroke-linejoin="round" />
<polygon points="579.86,420.60 596.26,423.50 601.06,420.80 584.66,417.90" fill="#c4601c" stroke="#c4601c" stroke-width="0.35" stroke-linejoin="round" />
<polygon points="618.20,427.45 634.60,430.35 639.40,427.65 623.00,424.75" fill="#c4601c" stroke="#c4601c" stroke-width="0.35" stroke-linejoin="round" />
<polygon points="656.55,434.30 672.95,437.20 677.75,434.50 661.35,431.60" fill="#c4601c" stroke="#c4601c" stroke-width="0.35" stroke-linejoin="round" />
<polygon points="694.89,441.15 711.29,444.05 716.09,441.35 699.69,438.45" fill="#c4601c" stroke="#c4601c" stroke-width="0.35" stroke-linejoin="round" />
<polygon points="257.50,372.75 273.90,375.65 275.18,367.40 258.78,364.50" fill="#4472C4" stroke="#4472C4" stroke-width="0.35" stroke-linejoin="round" />
<polygon points="273.90,375.65 278.70,372.95 279.98,364.70 275.18,367.40" fill="#2c5292" stroke="#2c5292" stroke-width="0.35" stroke-linejoin="round" />
<polygon points="258.78,364.50 275.18,367.40 279.98,364.70 263.58,361.80" fill="#3a66b2" stroke="#3a66b2" stroke-width="0.35" stroke-linejoin="round" />
<polygon points="295.90,379.60 312.30,382.50 317.10,379.80 300.70,376.90" fill="#28549c" stroke="#28549c" stroke-width="0.35" stroke-linejoin="round" />
<polygon points="334.30,386.45 350.70,389.35 351.51,384.15 335.11,381.25" fill="#4472C4" stroke="#4472C4" stroke-width="0.35" stroke-linejoin="round" />
<polygon points="350.70,389.35 355.50,386.65 356.31,381.45 351.51,384.15" fill="#2c5292" stroke="#2c5292" stroke-width="0.35" stroke-linejoin="round" />
<polygon points="335.11,381.25 351.51,384.15 356.31,381.45 339.91,378.55" fill="#3a66b2" stroke="#3a66b2" stroke-width="0.35" stroke-linejoin="round" />
<polygon points="372.70,393.30 389.10,396.20 390.57,386.70 374.17,383.80" fill="#4472C4" stroke="#4472C4" stroke-width="0.35" stroke-linejoin="round" />
<polygon points="389.10,396.20 393.90,393.50 395.37,384.00 390.57,386.70" fill="#2c5292" stroke="#2c5292" stroke-width="0.35" stroke-linejoin="round" />
<polygon points="374.17,383.80 390.57,386.70 395.37,384.00 378.97,381.10" fill="#3a66b2" stroke="#3a66b2" stroke-width="0.35" stroke-linejoin="round" />
<polygon points="411.10,400.15 427.50,403.05 430.62,382.95 414.22,380.05" fill="#4472C4" stroke="#4472C4" stroke-width="0.35" stroke-linejoin="round" />
<polygon points="427.50,403.05 432.30,400.35 435.42,380.25 430.62,382.95" fill="#2c5292" stroke="#2c5292" stroke-width="0.35" stroke-linejoin="round" />
<polygon points="414.22,380.05 430.62,382.95 435.42,380.25 419.02,377.35" fill="#3a66b2" stroke="#3a66b2" stroke-width="0.35" stroke-linejoin="round" />
<polygon points="449.50,407.00 465.90,409.90 470.70,407.20 454.30,404.30" fill="#28549c" stroke="#28549c" stroke-width="0.35" stroke-linejoin="round" />
<polygon points="487.90,413.85 504.30,416.75 509.10,414.05 492.70,411.15" fill="#28549c" stroke="#28549c" stroke-width="0.35" stroke-linejoin="round" />
<polygon points="526.30,420.70 542.70,423.60 547.50,420.90 531.10,418.00" fill="#28549c" stroke="#28549c" stroke-width="0.35" stroke-linejoin="round" />
<polygon points="564.70,427.55 581.10,430.45 585.90,427.75 569.50,424.85" fill="#28549c" stroke="#28549c" stroke-width="0.35" stroke-linejoin="round" />
<polygon points="603.10,434.40 619.50,437.30 624.30,434.60 607.90,431.70" fill="#28549c" stroke="#28549c" stroke-width="0.35" stroke-linejoin="round" />
<polygon points="641.50,441.25 657.90,444.15 662.70,441.45 646.30,438.55" fill="#28549c" stroke="#28549c" stroke-width="0.35" stroke-linejoin="round" />
<polygon points="679.90,448.10 696.30,451.00 701.10,448.30 684.70,445.40" fill="#28549c" stroke="#28549c" stroke-width="0.35" stroke-linejoin="round" />
<text transform="translate(324.07 285.50) rotate(10)" font-size="3.8000000000000003" text-anchor="middle" fill="#404040" >25000</text>
<text transform="translate(352.63 356.15) rotate(10)" font-size="3.8000000000000003" text-anchor="middle" fill="#404040" >0</text>
<text transform="translate(397.51 318.75) rotate(10)" font-size="3.8000000000000003" text-anchor="middle" fill="#404040" >956</text>
<text transform="translate(429.11 369.85) rotate(10)" font-size="3.8000000000000003" text-anchor="middle" fill="#404040" >0</text>
<text transform="translate(475.99 319.50) rotate(10)" font-size="3.8000000000000003" text-anchor="middle" fill="#404040" >5478</text>
<text transform="translate(505.57 383.55) rotate(10)" font-size="3.8000000000000003" text-anchor="middle" fill="#404040" >0</text>
<text transform="translate(543.81 390.40) rotate(10)" font-size="3.8000000000000003" text-anchor="middle" fill="#404040" >0</text>
<text transform="translate(582.04 397.25) rotate(10)" font-size="3.8000000000000003" text-anchor="middle" fill="#404040" >0</text>
<text transform="translate(620.28 404.10) rotate(10)" font-size="3.8000000000000003" text-anchor="middle" fill="#404040" >0</text>
<text transform="translate(658.51 410.95) rotate(10)" font-size="3.8000000000000003" text-anchor="middle" fill="#404040" >0</text>
<text transform="translate(696.75 417.80) rotate(10)" font-size="3.8000000000000003" text-anchor="middle" fill="#404040" >0</text>
<text transform="translate(734.98 424.65) rotate(10)" font-size="3.8000000000000003" text-anchor="middle" fill="#404040" >0</text>
<text transform="translate(310.17 282.00) rotate(10)" font-size="3.8000000000000003" text-anchor="middle" fill="#404040" >55206</text>
<text transform="translate(340.73 338.70) rotate(10)" font-size="3.8000000000000003" text-anchor="middle" fill="#404040" >23</text>
<text transform="translate(381.63 328.75) rotate(10)" font-size="3.8000000000000003" text-anchor="middle" fill="#404040" >419</text>
<text transform="translate(422.92 316.25) rotate(10)" font-size="3.8000000000000003" text-anchor="middle" fill="#404040" >6103</text>
<text transform="translate(459.67 333.00) rotate(10)" font-size="3.8000000000000003" text-anchor="middle" fill="#404040" >1375</text>
<text transform="translate(498.52 336.25) rotate(10)" font-size="3.8000000000000003" text-anchor="middle" fill="#404040" >2355</text>
<text transform="translate(528.54 397.85) rotate(10)" font-size="3.8000000000000003" text-anchor="middle" fill="#404040" >0</text>
<text transform="translate(566.83 404.70) rotate(10)" font-size="3.8000000000000003" text-anchor="middle" fill="#404040" >0</text>
<text transform="translate(605.12 411.55) rotate(10)" font-size="3.8000000000000003" text-anchor="middle" fill="#404040" >0</text>
<text transform="translate(643.41 418.40) rotate(10)" font-size="3.8000000000000003" text-anchor="middle" fill="#404040" >0</text>
<text transform="translate(681.70 425.25) rotate(10)" font-size="3.8000000000000003" text-anchor="middle" fill="#404040" >0</text>
<text transform="translate(719.99 432.10) rotate(10)" font-size="3.8000000000000003" text-anchor="middle" fill="#404040" >0</text>
<text transform="translate(284.87 352.50) rotate(10)" font-size="3.8000000000000003" text-anchor="middle" fill="#404040" >4</text>
<text transform="translate(321.54 371.55) rotate(10)" font-size="3.8000000000000003" text-anchor="middle" fill="#404040" >0</text>
<text transform="translate(364.85 345.00) rotate(10)" font-size="3.8000000000000003" text-anchor="middle" fill="#404040" >110</text>
<text transform="translate(402.51 356.25) rotate(10)" font-size="3.8000000000000003" text-anchor="middle" fill="#404040" >35</text>
<text transform="translate(440.56 365.00) rotate(10)" font-size="3.8000000000000003" text-anchor="middle" fill="#404040" >44</text>
<text transform="translate(474.92 398.95) rotate(10)" font-size="3.8000000000000003" text-anchor="middle" fill="#404040" >0</text>
<text transform="translate(513.27 405.80) rotate(10)" font-size="3.8000000000000003" text-anchor="middle" fill="#404040" >0</text>
<text transform="translate(551.62 412.65) rotate(10)" font-size="3.8000000000000003" text-anchor="middle" fill="#404040" >0</text>
<text transform="translate(589.96 419.50) rotate(10)" font-size="3.8000000000000003" text-anchor="middle" fill="#404040" >0</text>
<text transform="translate(628.30 426.35) rotate(10)" font-size="3.8000000000000003" text-anchor="middle" fill="#404040" >0</text>
<text transform="translate(666.65 433.20) rotate(10)" font-size="3.8000000000000003" text-anchor="middle" fill="#404040" >0</text>
<text transform="translate(704.99 440.05) rotate(10)" font-size="3.8000000000000003" text-anchor="middle" fill="#404040" >0</text>
<text transform="translate(268.88 362.00) rotate(10)" font-size="3.8000000000000003" text-anchor="middle" fill="#404040" >3</text>
<text transform="translate(306.00 378.50) rotate(10)" font-size="3.8000000000000003" text-anchor="middle" fill="#404040" >0</text>
<text transform="translate(345.21 378.75) rotate(10)" font-size="3.8000000000000003" text-anchor="middle" fill="#404040" >2</text>
<text transform="translate(384.27 381.30) rotate(10)" font-size="3.8000000000000003" text-anchor="middle" fill="#404040" >4</text>
<text transform="translate(424.32 377.55) rotate(10)" font-size="3.8000000000000003" text-anchor="middle" fill="#404040" >25</text>
<text transform="translate(459.60 405.90) rotate(10)" font-size="3.8000000000000003" text-anchor="middle" fill="#404040" >0</text>
<text transform="translate(498.00 412.75) rotate(10)" font-size="3.8000000000000003" text-anchor="middle" fill="#404040" >0</text>
<text transform="translate(536.40 419.60) rotate(10)" font-size="3.8000000000000003" text-anchor="middle" fill="#404040" >0</text>
<text transform="translate(574.80 426.45) rotate(10)" font-size="3.8000000000000003" text-anchor="middle" fill="#404040" >0</text>
<text transform="translate(613.20 433.30) rotate(10)" font-size="3.8000000000000003" text-anchor="middle" fill="#404040" >0</text>
<text transform="translate(651.60 440.15) rotate(10)" font-size="3.8000000000000003" text-anchor="middle" fill="#404040" >0</text>
<text transform="translate(690.00 447.00) rotate(10)" font-size="3.8000000000000003" text-anchor="middle" fill="#404040" >0</text>
<text transform="translate(260.00 384.25) rotate(10)" font-size="4.2" text-anchor="middle" fill="#595959" >USA</text>
<text transform="translate(298.40 391.10) rotate(10)" font-size="4.2" text-anchor="middle" fill="#595959" >China</text>
<text transform="translate(336.80 397.95) rotate(10)" font-size="4.2" text-anchor="middle" fill="#595959" >Australia</text>
<text transform="translate(375.20 404.80) rotate(10)" font-size="4.2" text-anchor="middle" fill="#595959" >Canada</text>
<text transform="translate(413.60 411.65) rotate(10)" font-size="4.2" text-anchor="middle" fill="#595959" >Norway</text>
<text transform="translate(452.00 418.50) rotate(10)" font-size="4.2" text-anchor="middle" fill="#595959" >UK</text>
<text transform="translate(490.40 425.35) rotate(10)" font-size="4.2" text-anchor="middle" fill="#595959" >India</text>
<text transform="translate(528.80 432.20) rotate(10)" font-size="4.2" text-anchor="middle" fill="#595959" >Pakistan</text>
<text transform="translate(567.20 439.05) rotate(10)" font-size="4.2" text-anchor="middle" fill="#595959" >Bangladesh</text>
<text transform="translate(605.60 445.90) rotate(10)" font-size="4.2" text-anchor="middle" fill="#595959" >Baltic Region</text>
<text transform="translate(644.00 452.75) rotate(10)" font-size="4.2" text-anchor="middle" fill="#595959" >Brazil</text>
<text transform="translate(682.40 459.60) rotate(10)" font-size="4.2" text-anchor="middle" fill="#595959" >Sri Lanka</text>
<rect transform="translate(638.75 316.75) rotate(10)" x="-1.1" y="-1.1" width="2.3" height="2.3" fill="#4472C4"/>
<text transform="translate(641.02 318.88) rotate(10)" font-size="4.5" text-anchor="start" fill="#595959" >Stored</text>
<rect transform="translate(661.99 320.85) rotate(10)" x="-1.1" y="-1.1" width="2.3" height="2.3" fill="#ED7D31"/>
<text transform="translate(664.26 322.97) rotate(10)" font-size="4.5" text-anchor="start" fill="#595959" >Capacity</text>
<rect transform="translate(688.78 325.57) rotate(10)" x="-1.1" y="-1.1" width="2.3" height="2.3" fill="#A5A5A5"/>
<text transform="translate(691.04 327.70) rotate(10)" font-size="4.5" text-anchor="start" fill="#595959" >Sub-Commercial</text>
<rect transform="translate(730.04 332.85) rotate(10)" x="-1.1" y="-1.1" width="2.3" height="2.3" fill="#FFC000"/>
<text transform="translate(732.31 334.97) rotate(10)" font-size="4.5" text-anchor="start" fill="#595959" >Undiscovered</text>
<text transform="translate(221.50 290.90) rotate(-80)" font-size="4.2" text-anchor="middle" fill="#595959" textLength="110" lengthAdjust="spacingAndGlyphs">Mid level CO2 Storage Resource - Project Specific (Mt)</text>
<text transform="translate(227.50 290.90) rotate(-80)" font-size="4.2" text-anchor="middle" fill="#595959" textLength="40.6" lengthAdjust="spacingAndGlyphs">(Logarithmic scale)</text>
<text transform="translate(469.70 428.80) rotate(10)" font-size="4.2" text-anchor="middle" fill="#595959" textLength="66" lengthAdjust="spacingAndGlyphs">Countries in 2019 Assessment</text>
<text transform="translate(765.00 446.30) rotate(-80)" font-size="4.2" text-anchor="middle" fill="#595959" textLength="71" lengthAdjust="spacingAndGlyphs">SRMS Classification Maturity Class</text>
<line x1="197.50" y1="382.50" x2="756.25" y2="482.25" stroke="#b5b5b5" stroke-width="0.6" stroke-dasharray="1.4 1.4"/>
</svg>
</body></html>
